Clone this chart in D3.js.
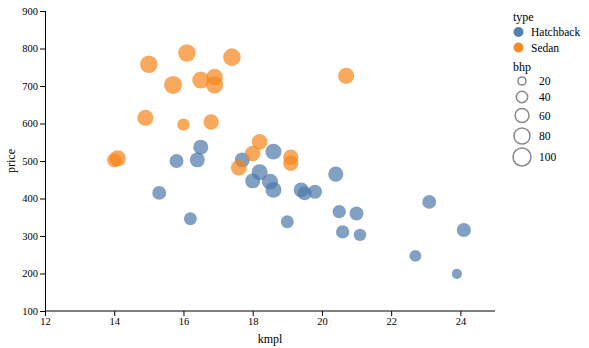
<!DOCTYPE html>
<html>
<head>
<meta charset="utf-8">
<script src="https://cdn.jsdelivr.net/npm/d3@7"></script>
<style>
  body { margin: 0; background: #fff; }
  svg text { font-family: "Liberation Serif", "DejaVu Serif", serif; fill: #000; }
</style>
</head>
<body>
<svg id="chart" width="589" height="348"></svg>
<script>
// values
const types = ['Hatchback', 'Sedan'];
const hatchKmpl = [15.8, 16.4, 16.5, 15.3, 16.2, 17.7, 18.6, 18.2, 18.0, 18.5, 18.6, 19.4,
  19.5, 19.8, 20.4, 20.5, 20.6, 19.0, 21.0, 21.1, 23.1, 24.1, 22.7, 23.9];
const hatchPrice = [500, 503, 537, 415, 346, 503, 525, 470, 447, 445, 423, 423,
  414, 418, 465, 365, 311, 338, 360, 303, 391, 316, 247, 199];
const hatchBhp = [60, 69, 69, 60, 52, 69, 79, 79, 69, 79, 79, 69,
  62, 62, 70, 55, 55, 52, 60, 48, 60, 62, 44, 31];
const sedanKmpl = [15.0, 16.1, 17.4, 15.7, 16.5, 16.9, 16.9, 20.7, 14.9, 16.0, 16.8, 14.0,
  14.1, 18.2, 18.0, 17.6, 19.1, 19.1];
const sedanPrice = [758, 788, 777, 703, 716, 724, 703, 727, 615, 597, 604, 502,
  507, 551, 520, 482, 510, 494];
const sedanBhp = [95, 95, 95, 100, 90, 85, 90, 80, 80, 48, 72, 62,
  82, 75, 75, 78, 72, 72];
const xTicks = [12, 14, 16, 18, 20, 22, 24];
const yTicks = [100, 200, 300, 400, 500, 600, 700, 800, 900];
const bhpLegend = [20, 40, 60, 80, 100];

const cars = [];
hatchKmpl.forEach((k, i) => cars.push({type: 'Hatchback', kmpl: k, price: hatchPrice[i], bhp: hatchBhp[i]}));
sedanKmpl.forEach((k, i) => cars.push({type: 'Sedan', kmpl: k, price: sedanPrice[i], bhp: sedanBhp[i]}));

const svg = d3.select('#chart');
const margin = {left: 45, top: 11},
  width = 450, height = 300;

const x = d3.scaleLinear().domain([12, 25]).range([0, width]);
const y = d3.scaleLinear().domain([100, 900]).range([height, 0]);
const r = d3.scaleSqrt().domain([0, 100]).range([0, 9]);
const color = d3.scaleOrdinal().domain(types).range(['#4c78a8', '#f58518']);

const g = svg.append('g')
  .attr('transform', 'translate(' + margin.left + ',' + margin.top + ')');

const xAxis = g.append('g')
  .attr('transform', 'translate(0,' + height + ')')
  .call(d3.axisBottom(x).tickValues(xTicks).tickSize(5).tickPadding(2));
const yAxis = g.append('g')
  .call(d3.axisLeft(y).tickValues(yTicks).tickSize(5).tickPadding(2));
[xAxis, yAxis].forEach(a => {
  a.attr('font-family', '"Liberation Serif", serif').attr('font-size', 10.5);
  a.selectAll('text').style('font-family', '"Liberation Serif", serif');
  a.selectAll('path, line').attr('stroke', '#000');
});
xAxis.select('.domain').attr('d', 'M0.5,0H' + width);
yAxis.select('.domain').attr('d', 'M0.5,0V' + height);

g.append('text')
  .attr('x', width / 2).attr('y', height + 32)
  .attr('text-anchor', 'middle').attr('font-size', 12)
  .text('kmpl');
g.append('text')
  .attr('transform', 'translate(-30,' + (height / 2) + ') rotate(-90)')
  .attr('text-anchor', 'middle').attr('font-size', 12)
  .text('price');

g.append('g')
  .selectAll('circle')
  .data(cars)
  .enter().append('circle')
  .attr('cx', d => x(d.kmpl))
  .attr('cy', d => y(d.price))
  .attr('r', d => r(d.bhp))
  .attr('fill', d => color(d.type))
  .attr('fill-opacity', 0.7);

// legends
const leg = svg.append('g').attr('transform', 'translate(513,0)');
leg.append('text').attr('x', 0).attr('y', 21).attr('font-size', 12).text('type');
const tItem = leg.selectAll('.titem').data(types).enter().append('g')
  .attr('transform', (d, i) => 'translate(0,' + (32 + i * 15.5) + ')');
tItem.append('circle').attr('cx', 5.5).attr('cy', 0).attr('r', 5)
  .attr('fill', d => color(d)).attr('fill-opacity', 0.95);
tItem.append('text').attr('x', 18).attr('y', 4).attr('font-size', 11.5).text(d => d);

leg.append('text').attr('x', 0).attr('y', 71).attr('font-size', 12).text('bhp');
const sY = [81, 97, 115.5, 136, 157];
const sItem = leg.selectAll('.sitem').data(bhpLegend).enter().append('g')
  .attr('transform', (d, i) => 'translate(0,' + sY[i] + ')');
sItem.append('circle').attr('cx', 9).attr('cy', 0).attr('r', d => r(d))
  .attr('fill', 'none').attr('stroke', '#888').attr('stroke-width', 1.5);
sItem.append('text').attr('x', 26).attr('y', 4).attr('font-size', 11.5).text(d => d);
</script>
</body>
</html>
